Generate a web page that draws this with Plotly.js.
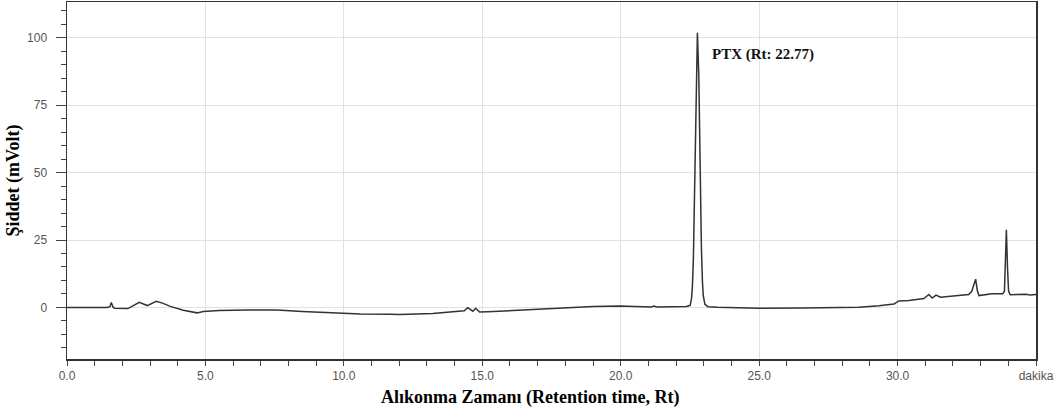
<!DOCTYPE html>
<html>
<head>
<meta charset="utf-8">
<script src="https://cdn.plot.ly/plotly-3.0.1.min.js"></script>
<style>
  html, body { margin: 0; padding: 0; background: #ffffff; }
  #chart { width: 1059px; height: 414px; }
</style>
</head>
<body>
<div id="chart"></div>
<script>
// Chromatogram trace: retention time (min) and detector signal (mV)
const retentionTime = [
  0, 1.45, 1.55, 1.6, 1.66, 1.72, 2.2, 2.61, 2.9, 3.22, 3.45, 3.73, 4.2, 4.56, 4.7, 4.92,
  5.5, 6.5, 7.58, 8.5, 9.96, 10.6, 11.66, 12.02, 13.21, 13.93, 14.18, 14.35, 14.47, 14.62,
  14.66, 14.76, 14.9, 15.2, 16.3, 17.43, 18.62, 19.0, 19.95, 21.1, 21.2, 21.3, 22.37, 22.45,
  22.51, 22.56, 22.59, 22.625, 22.67, 22.72, 22.77, 22.82, 22.87, 22.915, 22.95, 22.98,
  23.04, 23.15, 23.5, 25.0, 26.5, 28.0, 28.6, 29.33, 29.87, 30.05, 30.41, 30.95, 31.13,
  31.25, 31.39, 31.55, 32.2, 32.57, 32.68, 32.82, 32.88, 32.94, 33.41, 33.8, 33.86, 33.89,
  33.93, 33.97, 34.01, 34.07, 34.62, 34.8, 35.0
];
const intensity = [
  0, 0, 0.3, 1.8, 0.2, -0.3, -0.4, 1.9, 0.7, 2.3, 1.6, 0.4, -1.0, -1.9, -2.0, -1.5,
  -1.1, -0.9, -0.9, -1.5, -2.3, -2.4, -2.5, -2.6, -2.2, -1.7, -1.5, -1.2, -0.1, -1.3,
  -1.4, -0.3, -1.7, -1.6, -1.1, -0.5, 0.2, 0.4, 0.5, 0.2, 0.5, 0.2, 0.4, 0.5,
  0.8, 3.5, 8, 18, 47, 86, 101.8, 86, 48, 22, 10, 4.5,
  1.2, 0.3, 0.1, -0.3, -0.2, 0, 0.1, 0.6, 1.3, 2.4, 2.6, 3.3, 4.8,
  3.5, 4.6, 3.8, 4.6, 4.8, 6.0, 10.5, 6.3, 4.4, 5.1, 5.1, 6, 15,
  28.8, 15, 6, 4.7, 4.9, 4.6, 4.8
];

// Labelled peak
const peakName = 'PTX';
const peakRt = 22.77;

// Axis ticks
const xTickVals = [0, 5, 10, 15, 20, 25, 30, 35];
const xTickText = ['0.0', '5.0', '10.0', '15.0', '20.0', '25.0', '30.0', 'dakika'];
const yTickVals = [0, 25, 50, 75, 100];
const yTickText = ['0', '25', '50', '75', '100'];

const xTitle = 'Alıkonma Zamanı (Retention time, Rt)';
const yTitle = 'Şiddet (mVolt)';

const peakHeight = Math.max(...intensity);

const serif = '"Liberation Serif", "Times New Roman", serif';
const sans = '"Liberation Sans", Arial, sans-serif';

const trace = {
  type: 'scatter',
  mode: 'lines',
  x: retentionTime,
  y: intensity,
  line: { color: '#333333', width: 1.5 },
  hoverinfo: 'skip'
};

const gridColor = '#e2e2e2';
const axisColor = '#333333';

const layout = {
  width: 1059,
  height: 414,
  margin: { l: 67, r: 23, t: 2, b: 55 },
  paper_bgcolor: '#ffffff',
  plot_bgcolor: '#ffffff',
  showlegend: false,
  xaxis: {
    range: [0, 35],
    tickmode: 'array',
    tickvals: xTickVals,
    ticktext: xTickText,
    ticks: 'outside',
    ticklen: 5,
    tickwidth: 1,
    tickcolor: '#444444',
    tickfont: { family: sans, size: 12, color: '#555555' },
    showgrid: true,
    gridcolor: gridColor,
    gridwidth: 1,
    zeroline: false,
    showline: true,
    linecolor: axisColor,
    linewidth: 1.5,
    mirror: true,
    minor: { tickmode: 'linear', tick0: 0, dtick: 1, ticks: 'outside', ticklen: 5, tickcolor: '#444444', showgrid: false }
  },
  yaxis: {
    range: [-19.1, 113.2],
    tickmode: 'array',
    tickvals: yTickVals,
    ticktext: yTickText,
    ticks: 'outside',
    ticklen: 10,
    tickwidth: 1,
    tickcolor: '#444444',
    ticklabelstandoff: 6,
    tickfont: { family: sans, size: 12, color: '#555555' },
    showgrid: true,
    gridcolor: gridColor,
    gridwidth: 1,
    zeroline: false,
    showline: true,
    linecolor: axisColor,
    linewidth: 1.5,
    mirror: true,
    minor: { tickmode: 'linear', tick0: 0, dtick: 5, ticks: 'outside', ticklen: 5, tickcolor: '#444444', showgrid: false },
    title: { text: yTitle, font: { family: serif, size: 18, color: '#000000', weight: 'bold' }, standoff: 3 }
  },
  annotations: [
    {
      // peak label next to the apex
      x: peakRt,
      y: peakHeight,
      xref: 'x',
      yref: 'y',
      text: '<b>' + peakName + ' (Rt: ' + peakRt.toFixed(2) + ')</b>',
      showarrow: false,
      xanchor: 'left',
      yanchor: 'middle',
      xshift: 13,
      yshift: -22,
      font: { family: serif, size: 15, color: '#111111' }
    },
    {
      // x-axis title, centred on the page
      x: 0.4773,
      y: 0,
      xref: 'paper',
      yref: 'paper',
      text: '<b>' + xTitle + '</b>',
      showarrow: false,
      xanchor: 'center',
      yanchor: 'middle',
      yshift: -38,
      font: { family: serif, size: 18, color: '#000000' }
    }
  ]
};

Plotly.newPlot('chart', [trace], layout, { staticPlot: true, displayModeBar: false });
</script>
</body>
</html>
